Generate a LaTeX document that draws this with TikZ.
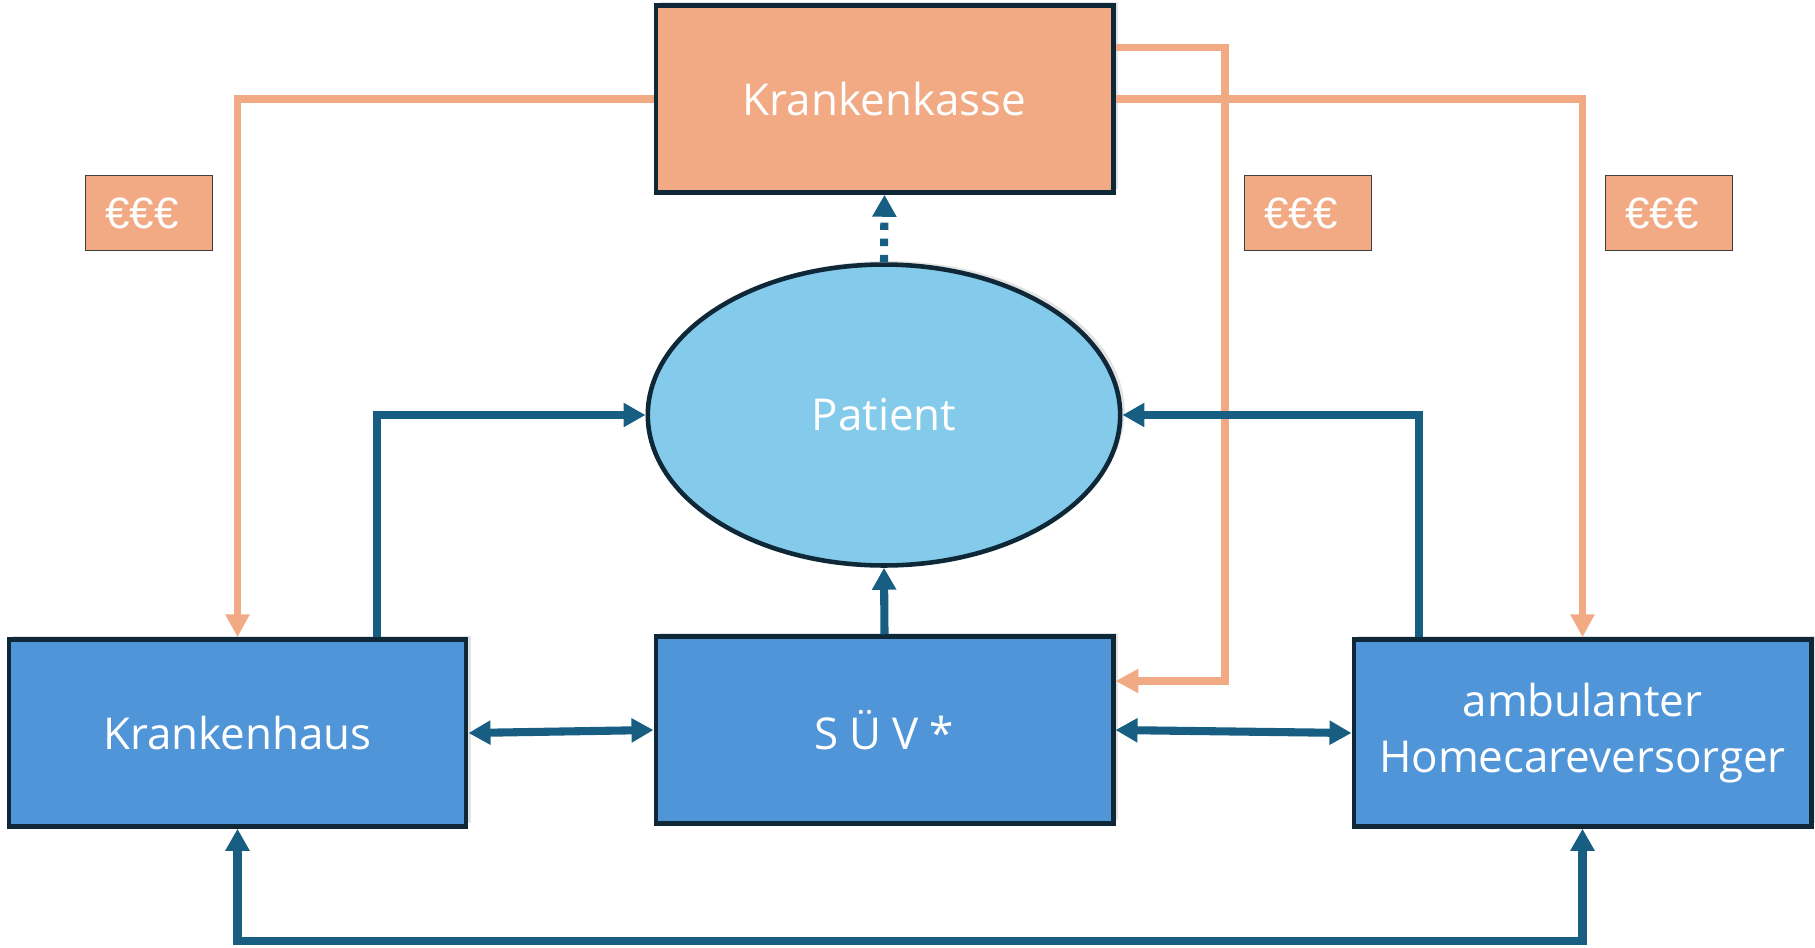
\documentclass[tikz,border=0pt]{standalone}
\usepackage{fontspec}
\setmainfont{Open Sans}
\newfontfamily\eurofont{Liberation Sans}
\usetikzlibrary{shapes.geometric,arrows.meta,shadows}

\definecolor{kasseorange}{RGB}{241,170,132}
\definecolor{boxblue}{RGB}{80,149,216}
\definecolor{patientblue}{RGB}{131,202,235}
\definecolor{arrowblue}{RGB}{23,94,130}
\definecolor{boxline}{RGB}{14,40,56}

\begin{document}
\begin{tikzpicture}[x=0.02cm,y=-0.02cm]
	 \tikzstyle{shade}=[drop shadow={shadow xshift=2.5pt,shadow yshift=2pt,opacity=0.22}]
	 \tikzstyle{box}=[rectangle,draw=boxline,line width=2.6pt,minimum width=9.15cm,minimum height=3.74cm,text=white,align=center,font=\fontsize{25}{32}\selectfont,shade]
	 \tikzstyle{care box}=[box,fill=boxblue]
	 \tikzstyle{kasse box}=[box,fill=kasseorange]
	 \tikzstyle{euro box}=[rectangle,draw=black!75,line width=0.8pt,fill=kasseorange,minimum width=2.55cm,minimum height=1.5cm,text=white,font=\eurofont\fontsize{25}{28}\selectfont]
	 \tikzstyle{flow}=[draw,line width=4.6pt,arrowblue,-{Triangle[width=0.46cm,length=0.44cm]}]
	 \tikzstyle{both flow}=[flow,{Triangle[width=0.46cm,length=0.44cm]}-{Triangle[width=0.46cm,length=0.44cm]}]
	 \tikzstyle{money}=[draw,line width=4.4pt,kasseorange,-{Triangle[width=0.46cm,length=0.46cm]}]
	 \useasboundingbox (0,0) rectangle (1815,947);
	 \node[kasse box] (kasse) at (884.5,99) {Krankenkasse};
	 \node[ellipse,draw=boxline,line width=2.6pt,fill=patientblue,minimum width=9.45cm,minimum height=6.02cm,text=white,font=\fontsize{25}{32}\selectfont,shade] (patient) at (884,415) {Patient};
	 \node[care box] (haus) at (237.5,733) {Krankenhaus};
	 \node[care box] (suev) at (884.5,730) {\addfontfeature{LetterSpace=25}SÜV*};
	 \node[care box] (amb) at (1582.5,733) {ambulanter\\Homecareversorger};
	 \node[euro box] (euro1) at (149,213) {\hspace*{-8pt}€€€};
	 \node[euro box] (euro2) at (1308,213) {\hspace*{-8pt}€€€};
	 \node[euro box] (euro3) at (1669,213) {\hspace*{-8pt}€€€};
	 \draw[money] (kasse.west) -| (haus.north);
	 \draw[money] (kasse.east) -| (amb.north);
	 \draw[money] (kasse.east |- 0,47.5) -| (1225,681) -- (suev.east |- 0,681);
	 \draw[flow] (haus.north -| 377,0) |- (patient.west);
	 \draw[flow] (amb.north -| 1419,0) |- (patient.east);
	 \draw[flow] (suev.north) -- (patient.south);
	 \draw[flow,dash pattern=on 4.2pt off 5pt] (patient.north) -- (kasse.south);
	 \draw[both flow] (haus.east) -- (suev.west);
	 \draw[both flow] (suev.east) -- (amb.west);
	 \draw[both flow] (haus.south) -- ++(0,112) -| (amb.south);
 \end{tikzpicture}
\end{document}
